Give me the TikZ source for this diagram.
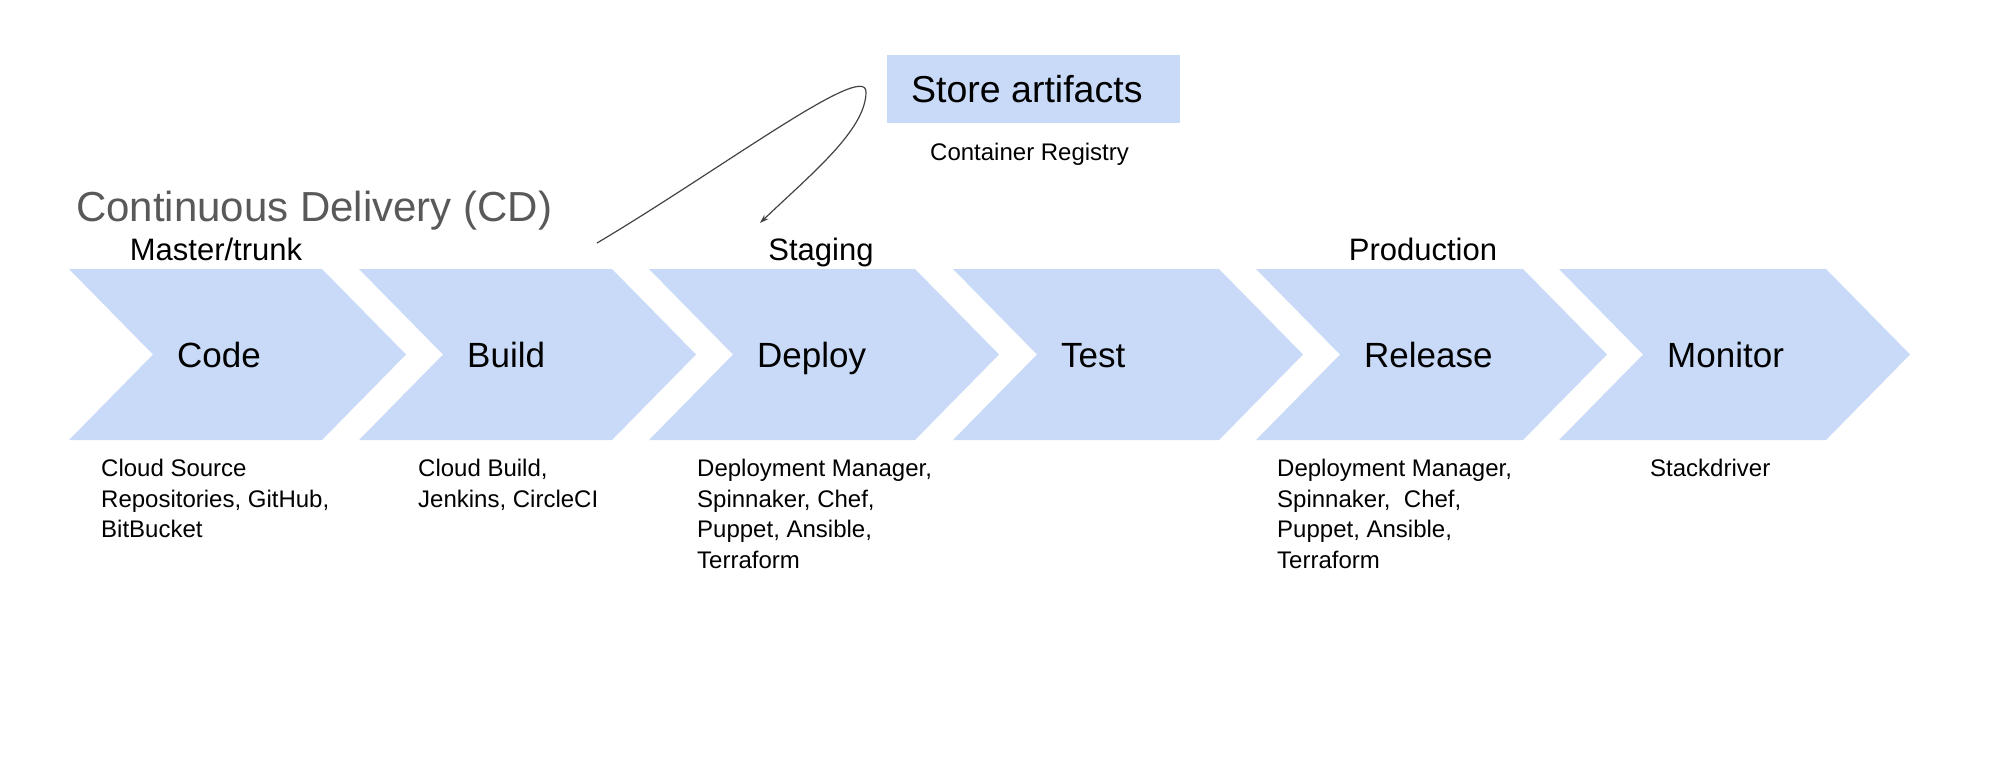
\documentclass[tikz,border=0pt]{standalone}
\usepackage{fontspec}
\setmainfont{Liberation Sans}
\usetikzlibrary{arrows.meta}
\definecolor{chevblue}{HTML}{C9DAF8}
\definecolor{headgray}{HTML}{595959}
\definecolor{linegray}{HTML}{444444}
\begin{document}
\begin{tikzpicture}[x=1pt,y=-1pt,
 chev/.style={fill=chevblue,draw=none},
 steplabel/.style={anchor=base west,inner sep=0pt,font=\fontsize{35}{42}\selectfont},
 toollist/.style={anchor=north west,inner sep=0pt,align=left,font=\fontsize{24}{30.5}\selectfont},
 stagelabel/.style={anchor=base,inner sep=0pt,font=\fontsize{31}{37}\selectfont},
 heading/.style={anchor=base west,inner sep=0pt,text=headgray,font=\fontsize{42}{50}\selectfont},
 storebox/.style={fill=chevblue,draw=none,inner sep=0pt,anchor=north west,minimum width=293pt,minimum height=68pt},
 connector/.style={draw=linegray,line width=1.2pt,-{Stealth[length=9pt,width=6pt]}}
]
\useasboundingbox (0,0) rectangle (1992,764);
\fill[white] (0,0) rectangle (1992,764);

% chevrons
\foreach \l/\r/\n/\t in {69/322/code/Code, 359/612/build/Build, 649/915/deploy/Deploy, 953/1219/test/Test, 1256/1523/release/Release, 1559/1826/monitor/Monitor}
{
  \fill[chev] (\l,269) -- (\r,269) -- ({\r+84},354.5) -- (\r,440) -- (\l,440) -- ({\l+84},354.5) -- cycle;
  \node[steplabel] (\n) at ({\l+108},367) {\t};
}

% heading
\node[heading] (title) at (76,221) {Continuous Delivery (CD)};

% stage labels
\node[stagelabel] (master) at (216,260) {Master/trunk};
\node[stagelabel] (staging) at (821,260) {Staging};
\node[stagelabel] (production) at (1423,260) {Production};

% store artifacts
\node[storebox] (store) at (887,55) {};
\node[anchor=base west,inner sep=0pt,font=\fontsize{37.5}{45}\selectfont] (storetxt) at (911,102) {Store artifacts};
\node[anchor=base west,inner sep=0pt,font=\fontsize{24}{30}\selectfont] (registry) at (930,160) {Container Registry};

% tool lists
\node[toollist] (codetools) at (101,459) {Cloud Source\\Repositories, GitHub,\\BitBucket};
\node[toollist] (buildtools) at (418,459) {Cloud Build,\\Jenkins, CircleCI};
\node[toollist] (deploytools) at (697,459) {Deployment Manager,\\Spinnaker, Chef,\\Puppet, Ansible,\\Terraform};
\node[toollist] (releasetools) at (1277,459) {Deployment Manager,\\Spinnaker,\ \ Chef,\\Puppet, Ansible,\\Terraform};
\node[toollist] (monitortools) at (1650,459) {Stackdriver};

% connector
\coordinate (arrfrom) at (597,243);
\coordinate (arrturn) at (866,92);
\coordinate (arrto) at (760,223);
\draw[connector] (arrfrom) .. controls (720,170) and (866,60) .. (arrturn)
                 .. controls (866,130) and (810,175) .. (arrto);
\end{tikzpicture}
\end{document}
